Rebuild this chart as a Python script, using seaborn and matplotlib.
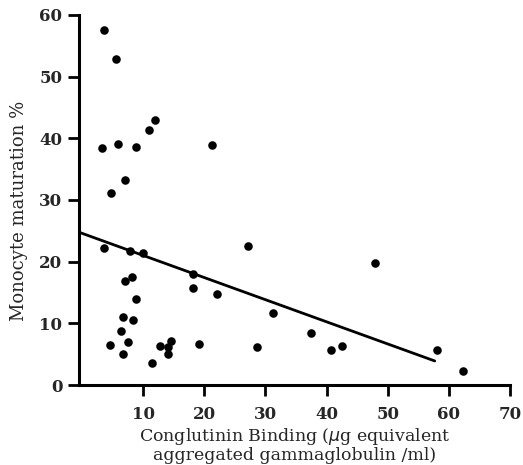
import numpy as np
import pandas as pd
import matplotlib
matplotlib.use("Agg")
import matplotlib.pyplot as plt
import seaborn as sns

# Dados
conglutinin = [3.6, 5.6, 12.0, 10.9, 3.3, 5.9, 8.9, 21.2, 7.1, 4.7,
               3.6, 7.8, 9.9, 18.1, 18.1, 22.1, 27.1, 7.0, 8.2, 8.9,
               6.7, 8.4, 6.4, 4.5, 7.6, 6.7, 11.5, 12.7, 14.0, 14.0,
               14.5, 19.2, 28.6, 48.0, 31.3, 37.4, 40.8, 42.6, 58.1, 62.4]
maturation = [57.6, 52.8, 43.0, 41.3, 38.5, 39.1, 38.6, 38.9, 33.2, 31.1,
              22.2, 21.7, 21.4, 18.0, 15.8, 14.8, 22.5, 16.8, 17.5, 14.0,
              11.0, 10.5, 8.7, 6.5, 7.0, 5.1, 3.5, 6.3, 6.1, 5.1,
              7.2, 6.7, 6.1, 19.8, 11.7, 8.5, 5.7, 6.3, 5.7, 2.3]

# Reta de regressão (extremos)
fit_x = [-0.3, 57.7]
fit_y = [24.7, 3.9]

x_ticks = [10, 20, 30, 40, 50, 60, 70]
y_ticks = [0, 10, 20, 30, 40, 50, 60]

df = pd.DataFrame({'binding': conglutinin, 'maturation': maturation})

sns.set_style("ticks")
plt.rcParams['font.family'] = ['DejaVu Serif']

fig = plt.figure(figsize=(5.23, 4.65), dpi=100)
ax = fig.add_axes([0.151, 0.172, 0.824, 0.796])

sns.scatterplot(data=df, x='binding', y='maturation', color='black',
                s=38, edgecolor='black', linewidth=0, ax=ax)
ax.plot(fit_x, fit_y, color='black', linewidth=2)

ax.set_xlim(-0.5, 70)
ax.set_ylim(0, 60)
ax.set_xticks(x_ticks)
ax.set_yticks(y_ticks)
ax.tick_params(axis='both', direction='out', length=8, width=2,
               labelsize=12, color='black')
ax.tick_params(axis='x', pad=7)
ax.tick_params(axis='y', pad=4)
for lbl in ax.get_xticklabels() + ax.get_yticklabels():
    lbl.set_fontweight('bold')

sns.despine(ax=ax)
for side in ['left', 'bottom']:
    ax.spines[side].set_linewidth(2.2)
    ax.spines[side].set_color('black')

ax.set_xlabel('Conglutinin Binding ($\\mu$g equivalent\naggregated gammaglobulin /ml)',
              fontsize=12.5, labelpad=2, linespacing=1.0)
ax.set_ylabel('Monocyte maturation %', fontsize=13)
ax.yaxis.set_label_coords(-0.118, 0.47)

fig.savefig('out.png', dpi=100)
